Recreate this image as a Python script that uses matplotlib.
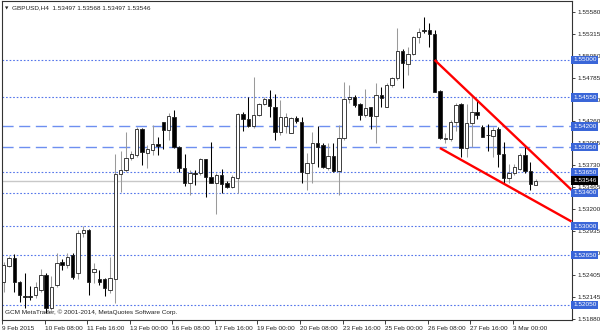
import matplotlib
matplotlib.use('Agg')
import matplotlib.pyplot as plt
import numpy as np

plt.rcParams['font.family'] = ['Liberation Sans', 'DejaVu Sans']

# ---- data (GBPUSD H4) ----
opens = [1.52330, 1.52523, 1.52612, 1.52330, 1.52158, 1.52152, 1.52170, 1.52230, 1.52411, 1.52010,
         1.52290, 1.52571, 1.52531, 1.52652, 1.52431, 1.52913, 1.52953, 1.52451, 1.52363, 1.52359,
         1.52230, 1.52359, 1.53627, 1.53675, 1.53820, 1.53856, 1.54169, 1.53883, 1.53916, 1.53988,
         1.54249, 1.54157, 1.54317, 1.53948, 1.53696, 1.53515, 1.53643, 1.53635, 1.53804, 1.53594,
         1.53522, 1.53615, 1.53515, 1.53474, 1.53575, 1.54349, 1.54286, 1.54205, 1.54337, 1.54470,
         1.54526, 1.54437, 1.54136, 1.54205, 1.54124, 1.54298, 1.54253, 1.53643, 1.53763, 1.53997,
         1.53976, 1.53696, 1.53847, 1.53663, 1.54057, 1.54526, 1.54550, 1.54470, 1.54337, 1.54430,
         1.54325, 1.54578, 1.54437, 1.54699, 1.54779, 1.55112, 1.54951, 1.55072, 1.55273, 1.55357,
         1.55361, 1.55313, 1.54630, 1.54045, 1.54045, 1.54257, 1.54466, 1.53936, 1.54245, 1.54377,
         1.54196, 1.54100, 1.54084, 1.54165, 1.53868, 1.53575, 1.53643, 1.53687, 1.53856, 1.53667,
         1.53497]
highs = [1.52567, 1.52640, 1.52664, 1.52339, 1.52431, 1.52278, 1.52330, 1.52479, 1.52431, 1.52399,
         1.52672, 1.52603, 1.52672, 1.52672, 1.52953, 1.53001, 1.52961, 1.52559, 1.52471, 1.52371,
         1.52631, 1.53868, 1.53904, 1.54136, 1.53907, 1.54196, 1.54177, 1.53976, 1.54217, 1.54069,
         1.54257, 1.54365, 1.54398, 1.53964, 1.53864, 1.53675, 1.53675, 1.53816, 1.53811, 1.54016,
         1.53635, 1.53683, 1.53546, 1.53615, 1.54358, 1.54377, 1.54550, 1.54791, 1.54483, 1.54558,
         1.54638, 1.54590, 1.54518, 1.54358, 1.54317, 1.54325, 1.54317, 1.53883, 1.54136, 1.54205,
         1.53997, 1.53997, 1.53997, 1.54217, 1.54738, 1.54699, 1.54578, 1.54482, 1.54647, 1.54437,
         1.54726, 1.54671, 1.54726, 1.54799, 1.55381, 1.55132, 1.55160, 1.55289, 1.55381, 1.55514,
         1.55449, 1.55361, 1.54638, 1.54117, 1.54277, 1.54478, 1.54478, 1.54470, 1.54566, 1.54518,
         1.54217, 1.54229, 1.54196, 1.54196, 1.54016, 1.53747, 1.53747, 1.53876, 1.53956, 1.53775,
         1.53568]
lows = [1.52206, 1.52507, 1.52206, 1.52086, 1.52013, 1.52110, 1.52130, 1.52210, 1.51950, 1.51989,
        1.52270, 1.52471, 1.52491, 1.52359, 1.52359, 1.52872, 1.52170, 1.52311, 1.52290, 1.52158,
        1.52190, 1.52074, 1.53410, 1.53655, 1.53795, 1.53835, 1.53735, 1.53699, 1.53856, 1.53856,
        1.53924, 1.54036, 1.53936, 1.53655, 1.53482, 1.53374, 1.53494, 1.53615, 1.53346, 1.53515,
        1.53145, 1.53402, 1.53455, 1.53455, 1.53402, 1.54148, 1.54196, 1.54177, 1.54331, 1.54458,
        1.54317, 1.54036, 1.54097, 1.54124, 1.54117, 1.54245, 1.53519, 1.53434, 1.53519, 1.53715,
        1.53699, 1.53675, 1.53651, 1.53374, 1.54036, 1.54478, 1.54434, 1.54277, 1.54313, 1.54165,
        1.54004, 1.54437, 1.54434, 1.54678, 1.54759, 1.54659, 1.54819, 1.55060, 1.55201, 1.55328,
        1.55153, 1.54614, 1.54048, 1.53997, 1.54028, 1.54148, 1.53835, 1.53828, 1.53956, 1.54286,
        1.54069, 1.53907, 1.53835, 1.53715, 1.53522, 1.53515, 1.53615, 1.53675, 1.53635, 1.53434,
        1.53497]
closes = [1.52531, 1.52619, 1.52330, 1.52170, 1.52142, 1.52146, 1.52270, 1.52411, 1.52010, 1.52270,
          1.52552, 1.52531, 1.52631, 1.52383, 1.52913, 1.52953, 1.52330, 1.52479, 1.52330, 1.52251,
          1.52371, 1.53627, 1.53675, 1.53816, 1.53868, 1.54169, 1.53895, 1.53924, 1.53988, 1.53964,
          1.54157, 1.54325, 1.53948, 1.53696, 1.53515, 1.53635, 1.53627, 1.53804, 1.53594, 1.53522,
          1.53615, 1.53506, 1.53474, 1.53587, 1.54349, 1.54286, 1.54208, 1.54337, 1.54470, 1.54526,
          1.54446, 1.54136, 1.54310, 1.54317, 1.54298, 1.54269, 1.53651, 1.53763, 1.54004, 1.53956,
          1.53715, 1.53844, 1.53663, 1.54064, 1.54526, 1.54558, 1.54458, 1.54337, 1.54418, 1.54325,
          1.54578, 1.54538, 1.54699, 1.54779, 1.55112, 1.54960, 1.55072, 1.55273, 1.55340, 1.55349,
          1.55313, 1.54618, 1.54057, 1.54064, 1.54257, 1.54458, 1.53936, 1.54245, 1.54377, 1.54337,
          1.54076, 1.54093, 1.54157, 1.53868, 1.53582, 1.53643, 1.53708, 1.53856, 1.53667, 1.53506,
          1.53546]

date_labels = ['9 Feb 2015', '10 Feb 08:00', '11 Feb 16:00', '13 Feb 00:00', '16 Feb 08:00',
               '17 Feb 16:00', '19 Feb 00:00', '20 Feb 08:00', '23 Feb 16:00', '25 Feb 00:00',
               '26 Feb 08:00', '27 Feb 16:00', '3 Mar 00:00']
price_ticks = [1.55580, 1.55315, 1.55050, 1.54785, 1.54520, 1.54260, 1.53995, 1.53730,
               1.53465, 1.53200, 1.52935, 1.52670, 1.52405, 1.52145, 1.51880]
dotted_levels = [1.55000, 1.54550, 1.53650, 1.53400, 1.53000, 1.52650, 1.52050]
dashed_levels = [1.54200, 1.53950]
upper_trend_bars = [81, 97]
upper_trend_prices = [1.55000, 1.54027]
lower_trend_bars = [82, 97]
lower_trend_prices = [1.53940, 1.53403]
header = 'GBPUSD,H4  1.53497 1.53568 1.53497 1.53546'
footer = 'GCM MetaTrader, \u00a9 2001-2014, MetaQuotes Software Corp.'

# ---- figure ----
fig = plt.figure(figsize=(6.0, 3.33), dpi=100)
W, H = 600, 333
ax = fig.add_axes([2 / W, (H - 320) / H, 569.5 / W, 319 / H])
ax.set_facecolor('white')

n = len(opens)
idx = np.arange(n)
o = np.array(opens); c = np.array(closes); hi = np.array(highs); lo = np.array(lows)
up = c >= o

xl = (-0.06, 106.73)
ax.set_xlim(*xl)
ax.set_ylim(1.51869, 1.55710)

# current price line
ax.axhline(closes[-1], color='#c8c8c8', lw=1.0, zorder=1)

# level lines
for lv in dotted_levels:
    ax.axhline(lv, color='#5576ea', lw=0.8, ls=(0, (1.5, 1.7)), zorder=1.2)
for lv in dashed_levels:
    ax.axhline(lv, color='#6e8ff0', lw=1.0, ls=(0, (8, 4)), zorder=1.2)

# candles
wick_col = np.where(up, '#9a9a9a', '#000000')
ax.vlines(idx, lo, hi, colors=wick_col, lw=0.75, zorder=2)
body_bottom = np.minimum(o, c)
body_h = np.maximum(np.abs(c - o), 0.00002)
ax.bar(idx, body_h, bottom=body_bottom, width=0.64,
       color=np.where(up, 'white', 'black'), edgecolor='#202020', linewidth=0.6, zorder=3)

# trend lines (rays to the right)
for bx, py in ((upper_trend_bars, upper_trend_prices), (lower_trend_bars, lower_trend_prices)):
    slope = (py[1] - py[0]) / (bx[1] - bx[0])
    x_end = xl[1]
    ax.plot([bx[0], x_end], [py[0], py[0] + slope * (x_end - bx[0])],
            color='#ff0000', lw=1.7, zorder=4, solid_capstyle='butt')

# axes styling
for s in ax.spines.values():
    s.set_color('#333333'); s.set_linewidth(0.8)
ax.yaxis.tick_right()
ax.set_yticks(price_ticks)
ax.set_yticklabels([f'{v:.5f}' for v in price_ticks], fontsize=4.6)
ax.tick_params(axis='y', length=2.5, width=0.6, pad=1.5, colors='#222222')
ax.set_xticks(np.arange(len(date_labels)) * 8 - 0.3)
ax.set_xticklabels(date_labels, fontsize=4.6, ha='left')
ax.tick_params(axis='x', length=3, width=0.6, pad=1.5, colors='#222222')

# right-axis level boxes
ytr = ax.get_yaxis_transform()
for lv in dotted_levels + dashed_levels:
    ax.text(1.003, lv, f'{lv:.5f}', transform=ytr, fontsize=4.6, color='white',
            va='center', ha='left', clip_on=False, zorder=6,
            bbox=dict(boxstyle='square,pad=0.28', fc='#3a66d8', ec='none'))
ax.text(1.003, closes[-1], f'{closes[-1]:.5f}', transform=ytr, fontsize=4.6, color='white',
        va='center', ha='left', clip_on=False, zorder=7,
        bbox=dict(boxstyle='square,pad=0.28', fc='black', ec='none'))

# header and footer text
ax.text(0.005, 0.978, '\u25bc', transform=ax.transAxes, fontsize=3.2, va='center', ha='left',
        family='DejaVu Sans', color='#222222')
ax.text(0.017, 0.978, header, transform=ax.transAxes, fontsize=4.6, va='center', ha='left',
        color='#222222')
ax.text(0.006, 0.025, footer, transform=ax.transAxes, fontsize=4.6, va='center', ha='left',
        color='#222222')

fig.savefig('out.png', dpi=100, facecolor='white')
